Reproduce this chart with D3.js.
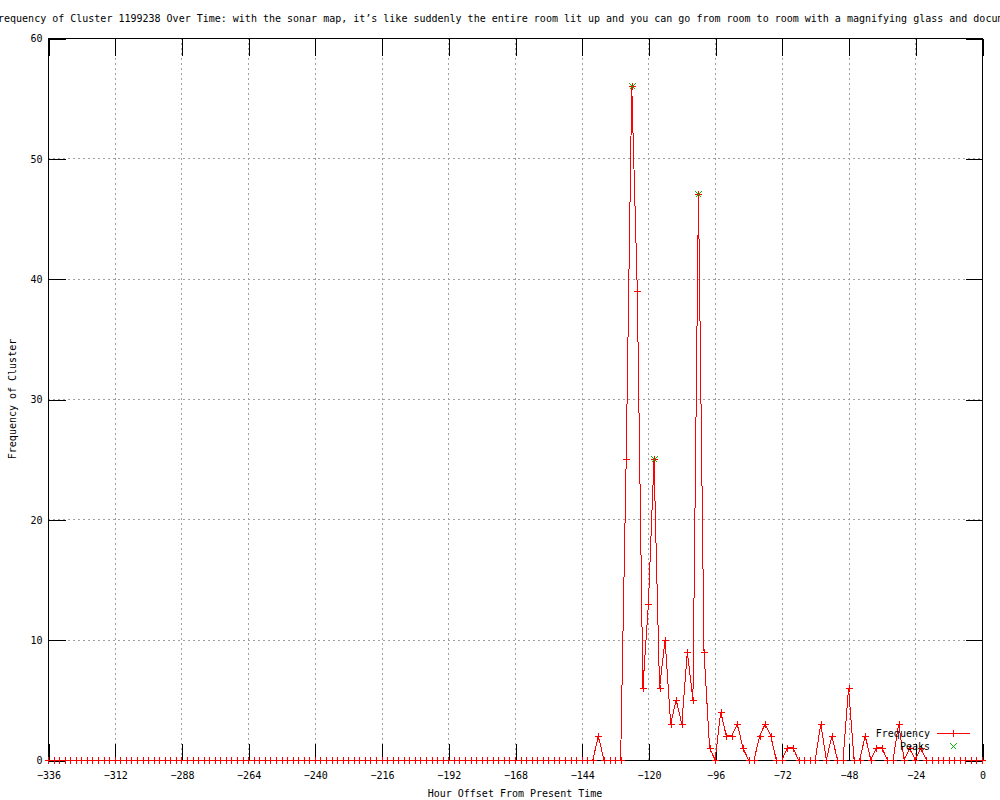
<!DOCTYPE html>
<html>
<head>
<meta charset="utf-8">
<script src="https://cdn.jsdelivr.net/npm/d3@7"></script>
<style>
  body { margin: 0; background: #fff; }
  svg { display: block; }
  text { font-family: "DejaVu Sans Mono", "Liberation Mono", monospace; font-size: 10px; fill: #000; }
</style>
</head>
<body>
<div id="chart"></div>
<script>
// hour offsets (every 2 hours) and cluster frequency
var hours = [
  -336, -334, -332, -330, -328, -326, -324, -322, -320, -318, -316, -314,
  -312, -310, -308, -306, -304, -302, -300, -298, -296, -294, -292, -290,
  -288, -286, -284, -282, -280, -278, -276, -274, -272, -270, -268, -266,
  -264, -262, -260, -258, -256, -254, -252, -250, -248, -246, -244, -242,
  -240, -238, -236, -234, -232, -230, -228, -226, -224, -222, -220, -218,
  -216, -214, -212, -210, -208, -206, -204, -202, -200, -198, -196, -194,
  -192, -190, -188, -186, -184, -182, -180, -178, -176, -174, -172, -170,
  -168, -166, -164, -162, -160, -158, -156, -154, -152, -150, -148, -146,
  -144, -142, -140, -138, -136, -134, -132, -130, -128, -126, -124, -122,
  -120, -118, -116, -114, -112, -110, -108, -106, -104, -102, -100, -98,
  -96, -94, -92, -90, -88, -86, -84, -82, -80, -78, -76, -74,
  -72, -70, -68, -66, -64, -62, -60, -58, -56, -54, -52, -50,
  -48, -46, -44, -42, -40, -38, -36, -34, -32, -30, -28, -26,
  -24, -22, -20, -18, -16, -14, -12, -10, -8, -6, -4, -2,
  0
];
var frequency = [
  0, 0, 0, 0, 0, 0, 0, 0, 0, 0, 0, 0,
  0, 0, 0, 0, 0, 0, 0, 0, 0, 0, 0, 0,
  0, 0, 0, 0, 0, 0, 0, 0, 0, 0, 0, 0,
  0, 0, 0, 0, 0, 0, 0, 0, 0, 0, 0, 0,
  0, 0, 0, 0, 0, 0, 0, 0, 0, 0, 0, 0,
  0, 0, 0, 0, 0, 0, 0, 0, 0, 0, 0, 0,
  0, 0, 0, 0, 0, 0, 0, 0, 0, 0, 0, 0,
  0, 0, 0, 0, 0, 0, 0, 0, 0, 0, 0, 0,
  0, 0, 0, 2, 0, 0, 0, 0, 25, 56, 39, 6,
  13, 25, 6, 10, 3, 5, 3, 9, 5, 47, 9, 1,
  0, 4, 2, 2, 3, 1, 0, 0, 2, 3, 2, 0,
  0, 1, 1, 0, 0, 0, 0, 3, 0, 2, 0, 0,
  6, 0, 0, 2, 0, 1, 1, 0, 0, 3, 0, 1,
  0, 1, 0, 0, 0, 0, 0, 0, 0, 0, 0, 0,
  0
];
var peakHours = [-126, -118, -102];
var peakValues = [56, 25, 47];

var xTicks = [-336, -312, -288, -264, -240, -216, -192, -168, -144, -120, -96, -72, -48, -24, 0];
var yTicks = [0, 10, 20, 30, 40, 50, 60];

var titleText = "Frequency of Cluster 1199238 Over Time: with the sonar map, it\u2019s like suddenly the entire room lit up and you can go from room to room with a magnifying glass and document";

var svgWidth = 1000;
var svgHeight = 800;
var plotLeft = 48, plotRight = 982, plotTop = 38, plotBottom = 760;
var tickLen = 17;

var svg = d3.select("#chart")
  .append("svg")
  .attr("width", svgWidth)
  .attr("height", svgHeight);

var x = d3.scaleLinear().domain([-336, 0]).range([plotLeft, plotRight]);
var y = d3.scaleLinear().domain([0, 60]).range([plotBottom, plotTop]);

// grid
var grid = svg.append("g")
  .attr("stroke", "#a0a0a0")
  .attr("stroke-dasharray", "2,3")
  .attr("shape-rendering", "crispEdges");

grid.selectAll(".vgrid")
  .data(xTicks.slice(1, -1))
  .enter()
  .append("line")
  .attr("x1", d => Math.round(x(d)) + 0.5)
  .attr("x2", d => Math.round(x(d)) + 0.5)
  .attr("y1", plotTop)
  .attr("y2", plotBottom);

grid.selectAll(".hgrid")
  .data(yTicks.slice(1, -1))
  .enter()
  .append("line")
  .attr("x1", plotLeft)
  .attr("x2", plotRight)
  .attr("y1", d => Math.round(y(d)) + 0.5)
  .attr("y2", d => Math.round(y(d)) + 0.5);

// axes, ticks pointing inward
var xAxis = svg.append("g")
  .attr("transform", `translate(0.5, ${plotBottom + 0.5})`)
  .call(d3.axisBottom(x).tickValues(xTicks).tickSize(-tickLen).tickPadding(11));

var yAxis = svg.append("g")
  .attr("transform", `translate(${plotLeft + 0.5}, 0.5)`)
  .call(d3.axisLeft(y).tickValues(yTicks).tickSize(-tickLen).tickPadding(6));

var xTop = svg.append("g")
  .attr("transform", `translate(0.5, ${plotTop + 0.5})`)
  .call(d3.axisTop(x).tickValues(xTicks).tickSize(-tickLen).tickFormat(""));

var yRight = svg.append("g")
  .attr("transform", `translate(${plotRight + 0.5}, 0.5)`)
  .call(d3.axisRight(y).tickValues(yTicks).tickSize(-tickLen).tickFormat(""));

[xAxis, yAxis, xTop, yRight].forEach(function(a) {
  a.select(".domain").remove();
  a.attr("font-family", null).attr("font-size", null);
  a.selectAll("line").attr("shape-rendering", "crispEdges").attr("stroke", "#000");
  a.selectAll("text").attr("fill", "#000");
});

// border
svg.append("rect")
  .attr("x", plotLeft + 0.5)
  .attr("y", plotTop + 0.5)
  .attr("width", plotRight - plotLeft)
  .attr("height", plotBottom - plotTop)
  .attr("fill", "none")
  .attr("stroke", "#000")
  .attr("shape-rendering", "crispEdges");

// frequency line
var points = hours.map((h, i) => ({ h: h, v: frequency[i] }));

var line = d3.line()
  .x(d => x(d.h))
  .y(d => y(d.v));

svg.append("path")
  .datum(points)
  .attr("d", line)
  .attr("fill", "none")
  .attr("stroke", "#ff0000")
  .attr("stroke-width", 1)
  .attr("shape-rendering", "crispEdges");

var plusPath = "M-3.5,0H3.5M0,-3.5V3.5";
var crossPath = "M-3,-3L3,3M-3,3L3,-3";

svg.append("g")
  .selectAll("path")
  .data(points)
  .enter()
  .append("path")
  .attr("transform", d => `translate(${Math.round(x(d.h)) + 0.5}, ${Math.round(y(d.v)) + 0.5})`)
  .attr("d", plusPath)
  .attr("stroke", "#ff0000")
  .attr("shape-rendering", "crispEdges");

// peaks
svg.append("g")
  .selectAll("path")
  .data(peakHours)
  .enter()
  .append("path")
  .attr("transform", (d, i) => `translate(${Math.round(x(d)) + 0.5}, ${Math.round(y(peakValues[i])) + 0.5})`)
  .attr("d", crossPath)
  .attr("stroke", "#00c000")
  .attr("fill", "none")
  .attr("shape-rendering", "crispEdges");

// legend
var legend = svg.append("g");
legend.append("text")
  .attr("x", 930)
  .attr("y", 736.5)
  .attr("text-anchor", "end")
  .text("Frequency");
legend.append("line")
  .attr("x1", 937).attr("x2", 970)
  .attr("y1", 733.5).attr("y2", 733.5)
  .attr("stroke", "#ff0000")
  .attr("shape-rendering", "crispEdges");
legend.append("path")
  .attr("transform", "translate(953.5, 733.5)")
  .attr("d", plusPath)
  .attr("stroke", "#ff0000")
  .attr("shape-rendering", "crispEdges");
legend.append("text")
  .attr("x", 930)
  .attr("y", 750)
  .attr("text-anchor", "end")
  .text("Peaks");
legend.append("path")
  .attr("transform", "translate(953.5, 746.5)")
  .attr("d", crossPath)
  .attr("stroke", "#00c000")
  .attr("fill", "none")
  .attr("shape-rendering", "crispEdges");

// title and axis labels
svg.append("text")
  .attr("x", -8)
  .attr("y", 22)
  .text(titleText);

svg.append("text")
  .attr("x", (plotLeft + plotRight) / 2)
  .attr("y", 797)
  .attr("text-anchor", "middle")
  .text("Hour Offset From Present Time");

svg.append("text")
  .attr("transform", `translate(16, ${(plotTop + plotBottom) / 2}) rotate(-90)`)
  .attr("text-anchor", "middle")
  .text("Frequency of Cluster");
</script>
</body>
</html>
